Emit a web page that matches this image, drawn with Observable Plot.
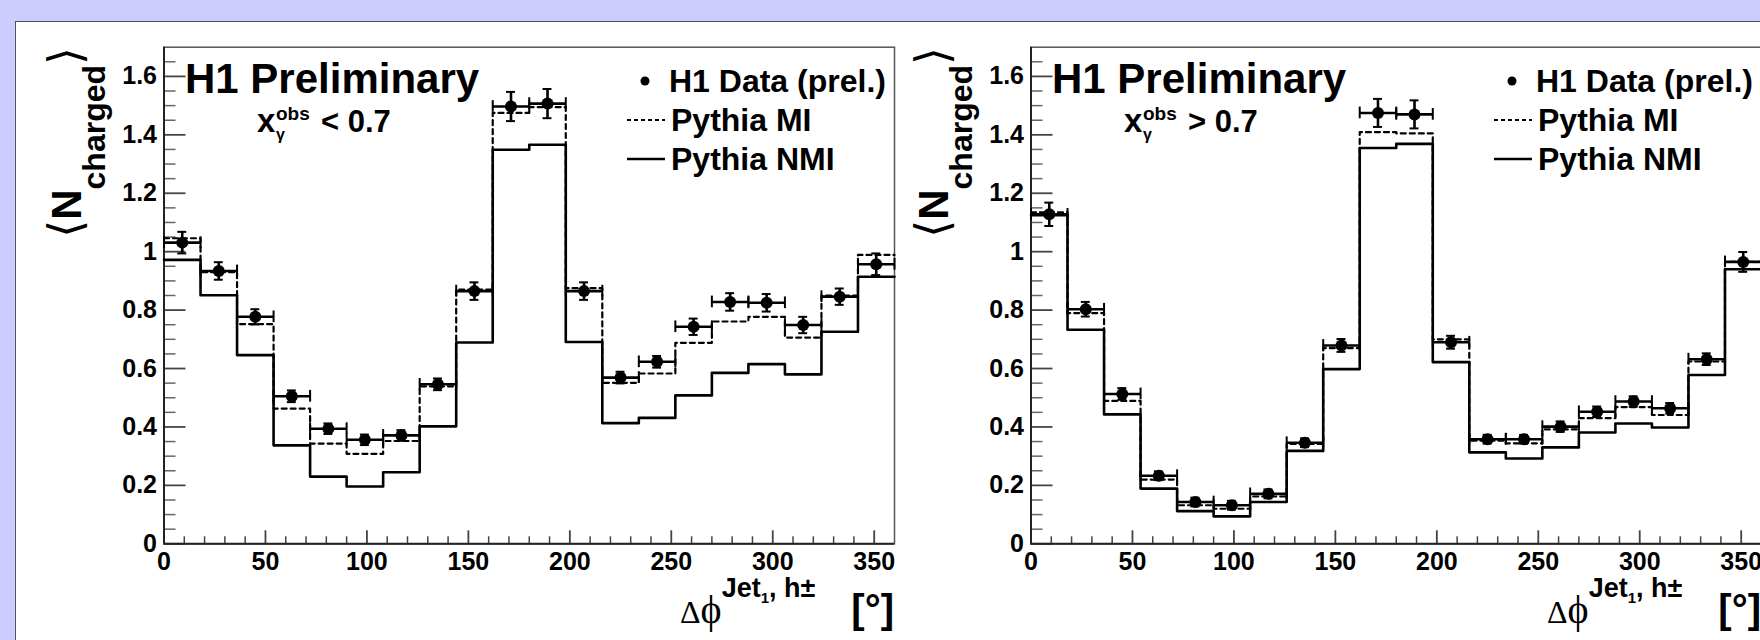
<!DOCTYPE html>
<html><head><meta charset="utf-8">
<script src="https://cdn.jsdelivr.net/npm/d3@7"></script>
<script src="https://cdn.jsdelivr.net/npm/@observablehq/plot@0.6"></script>
<style>
html,body{margin:0;padding:0;width:1760px;height:640px;overflow:hidden;background:#ccccff;}
#canvas{position:absolute;left:15px;top:21px;width:1800px;height:700px;background:#fff;border-top:1.5px solid #555;border-left:1.5px solid #555;}
.panel{position:absolute;top:0;}
</style></head><body>
<div id="canvas"></div>
<div id="p1" class="panel" style="left:0px"></div>
<div id="p2" class="panel" style="left:867px"></div>
<script>
// Δφ bin edges (degrees)
const phiEdges = [0,18,36,54,72,90,108,126,144,162,180,198,216,234,252,270,288,306,324,342,360];

// x_gamma^obs < 0.7
const dataLow = [1.031,0.934,0.777,0.505,0.394,0.356,0.371,0.546,0.865,1.497,1.507,0.865,0.569,0.623,0.743,0.828,0.825,0.749,0.846,0.957];
const errLow  = [0.037,0.030,0.026,0.020,0.018,0.018,0.018,0.020,0.030,0.050,0.050,0.030,0.020,0.020,0.028,0.030,0.030,0.028,0.028,0.037];
const miLow   = [1.046,0.930,0.752,0.463,0.343,0.308,0.352,0.539,0.870,1.475,1.495,0.875,0.551,0.583,0.688,0.761,0.777,0.706,0.850,0.989];
const nmiLow  = [0.972,0.851,0.646,0.337,0.230,0.196,0.245,0.402,0.689,1.349,1.366,0.691,0.413,0.431,0.508,0.585,0.615,0.580,0.726,0.914];

// x_gamma^obs > 0.7
const dataHigh = [1.128,0.803,0.513,0.233,0.143,0.132,0.171,0.346,0.679,1.475,1.470,0.690,0.358,0.358,0.401,0.452,0.487,0.464,0.632,0.965];
const errHigh  = [0.040,0.025,0.020,0.015,0.015,0.015,0.015,0.015,0.022,0.048,0.048,0.022,0.015,0.015,0.018,0.018,0.018,0.018,0.020,0.034];
const miHigh   = [1.135,0.790,0.489,0.220,0.132,0.120,0.162,0.342,0.670,1.409,1.405,0.700,0.353,0.344,0.392,0.430,0.468,0.441,0.624,0.965];
const nmiHigh  = [1.125,0.733,0.443,0.189,0.112,0.094,0.143,0.318,0.598,1.355,1.369,0.622,0.313,0.292,0.330,0.381,0.412,0.398,0.578,0.940];

const xTickLabels = [0,50,100,150,200,250,300,350];
const yTickLabels = [0,0.2,0.4,0.6,0.8,1,1.2,1.4,1.6];
const xMinorTicks = d3.range(10, 360, 10).filter(v => v % 50 !== 0);
const yMinorTicks = d3.range(0.05, 1.7, 0.05).filter(v => Math.abs(v*5 - Math.round(v*5)) > 1e-6);

const SANS = "'Liberation Sans', Arial, Helvetica, sans-serif";
const SERIF = "'Liberation Serif', 'Times New Roman', serif";

function stepPoints(vals) {
  return phiEdges.map((e, i) => ({x: e, y: vals[Math.min(i, vals.length - 1)]}));
}

function panel(data, err, mi, nmi, cutText) {
  const pts = data.map((v, i) => ({
    lo: phiEdges[i], hi: phiEdges[i+1], c: (phiEdges[i] + phiEdges[i+1]) / 2, v, e: err[i]
  }));
  const W = 730.5, H = 496.6;
  const capX = 2.2, capY = 0.02;
  const svg = Plot.plot({
    width: 900, height: 640,
    marginLeft: 163.5, marginRight: 6, marginTop: 46.7, marginBottom: 96.7,
    x: {domain: [0, 360]},
    y: {domain: [0, 1.7]},
    style: {background: "transparent", overflow: "visible", maxWidth: "none"},
    marks: [
      Plot.frame({stroke: "#555", strokeWidth: 1.5}),
      // inward ticks
      Plot.tickY(yTickLabels, {y: d => d, insetRight: W - 22, stroke: "#444", strokeWidth: 1.8}),
      Plot.tickY(yMinorTicks, {y: d => d, insetRight: W - 12, stroke: "#666", strokeWidth: 1.5}),
      Plot.tickX(xTickLabels, {x: d => d, insetTop: H - 13, stroke: "#444", strokeWidth: 1.8}),
      Plot.tickX(xMinorTicks, {x: d => d, insetTop: H - 7, stroke: "#444", strokeWidth: 1.5}),
      Plot.ruleY([0], {stroke: "#222", strokeWidth: 2}),
      Plot.ruleX([0], {stroke: "#222", strokeWidth: 2}),
      Plot.axisX(xTickLabels, {tickSize: 0, tickPadding: 8, fontSize: 25, fontWeight: "bold", fontFamily: SANS, label: null, fill: "#000", tickFormat: d => String(d)}),
      Plot.axisY(yTickLabels, {tickSize: 0, tickPadding: 7, fontSize: 25, fontWeight: "bold", fontFamily: SANS, label: null, fill: "#000", tickFormat: d => String(d)}),
      // models
      Plot.line(stepPoints(nmi), {x: "x", y: "y", curve: "step-after", stroke: "#000", strokeWidth: 2.6}),
      Plot.line(stepPoints(mi), {x: "x", y: "y", curve: "step-after", stroke: "#000", strokeWidth: 2.2, strokeDasharray: "5,4"}),
      // data with error bars
      Plot.ruleY(pts, {y: "v", x1: "lo", x2: "hi", stroke: "#000", strokeWidth: 2.6}),
      Plot.ruleX(pts, {x: "lo", y1: d => d.v - capY, y2: d => d.v + capY, stroke: "#000", strokeWidth: 2}),
      Plot.ruleX(pts, {x: "hi", y1: d => d.v - capY, y2: d => d.v + capY, stroke: "#000", strokeWidth: 2}),
      Plot.ruleX(pts, {x: "c", y1: d => d.v - d.e, y2: d => d.v + d.e, stroke: "#000", strokeWidth: 2.6}),
      Plot.ruleY(pts, {y: d => d.v + d.e, x1: d => d.c - capX, x2: d => d.c + capX, stroke: "#000", strokeWidth: 2}),
      Plot.ruleY(pts, {y: d => d.v - d.e, x1: d => d.c - capX, x2: d => d.c + capX, stroke: "#000", strokeWidth: 2}),
      Plot.dot(pts, {x: "c", y: "v", r: 6, fill: "#000", stroke: "none"})
    ]
  });

  const s = d3.select(svg);
  const g = s.append("g").attr("fill", "#000").attr("font-family", SANS).attr("font-weight", "bold")
    .attr("text-anchor", "start").style("text-anchor", "start");

  // Title
  g.append("text").attr("x", 185).attr("y", 93).attr("font-size", 42).text("H1 Preliminary");

  // x_gamma^obs cut
  g.append("text").attr("x", 257).attr("y", 132).attr("font-size", 33).text("x");
  g.append("text").attr("x", 276).attr("y", 140).attr("font-size", 16).text("γ");
  g.append("text").attr("x", 276).attr("y", 120).attr("font-size", 19).text("obs");
  g.append("text").attr("x", 321).attr("y", 132).attr("font-size", 31).text(cutText);

  // Legend
  g.append("circle").attr("cx", 645).attr("cy", 81).attr("r", 4.5).attr("fill", "#000");
  g.append("text").attr("x", 669).attr("y", 92).attr("font-size", 32).text("H1 Data (prel.)");
  g.append("line").attr("x1", 627).attr("x2", 665).attr("y1", 120).attr("y2", 120)
    .attr("stroke", "#000").attr("stroke-width", 2).attr("stroke-dasharray", "4,3");
  g.append("text").attr("x", 671).attr("y", 131).attr("font-size", 32).text("Pythia MI");
  g.append("line").attr("x1", 627).attr("x2", 665).attr("y1", 159).attr("y2", 159)
    .attr("stroke", "#000").attr("stroke-width", 2.6);
  g.append("text").attr("x", 671).attr("y", 170).attr("font-size", 32).text("Pythia NMI");

  // x-axis title
  const xt = g.append("text").attr("x", 680).attr("y", 623);
  xt.append("tspan").attr("font-family", SERIF).attr("font-weight", "normal").attr("font-size", 32).text("Δ");
  xt.append("tspan").attr("font-family", SERIF).attr("font-weight", "normal").attr("font-size", 40).text("ϕ");
  xt.append("tspan").attr("font-size", 27).attr("dy", -26).text("Jet");
  xt.append("tspan").attr("font-size", 15).attr("dy", 6).text("1");
  xt.append("tspan").attr("font-size", 27).attr("dy", -6).text(", h±");
  g.append("text").attr("x", 894).attr("y", 623).attr("text-anchor", "end").style("text-anchor", "end").attr("font-size", 40).text("[°]");

  // y-axis title
  const yt = g.append("text").attr("transform", "translate(81,47) rotate(-90)")
    .attr("text-anchor", "end").style("text-anchor", "end");
  yt.append("tspan").attr("font-family", "'DejaVu Sans', sans-serif").attr("font-weight", "normal").attr("font-size", 46).text("⟨");
  yt.append("tspan").attr("font-size", 42).text("N");
  yt.append("tspan").attr("font-size", 32).attr("dy", 24).text("charged");
  yt.append("tspan").attr("font-family", "'DejaVu Sans', sans-serif").attr("font-weight", "normal").attr("font-size", 46).attr("dy", -24).text("⟩");

  return svg;
}

document.getElementById("p1").appendChild(panel(dataLow, errLow, miLow, nmiLow, "< 0.7"));
document.getElementById("p2").appendChild(panel(dataHigh, errHigh, miHigh, nmiHigh, "> 0.7"));
</script>
</body></html>
